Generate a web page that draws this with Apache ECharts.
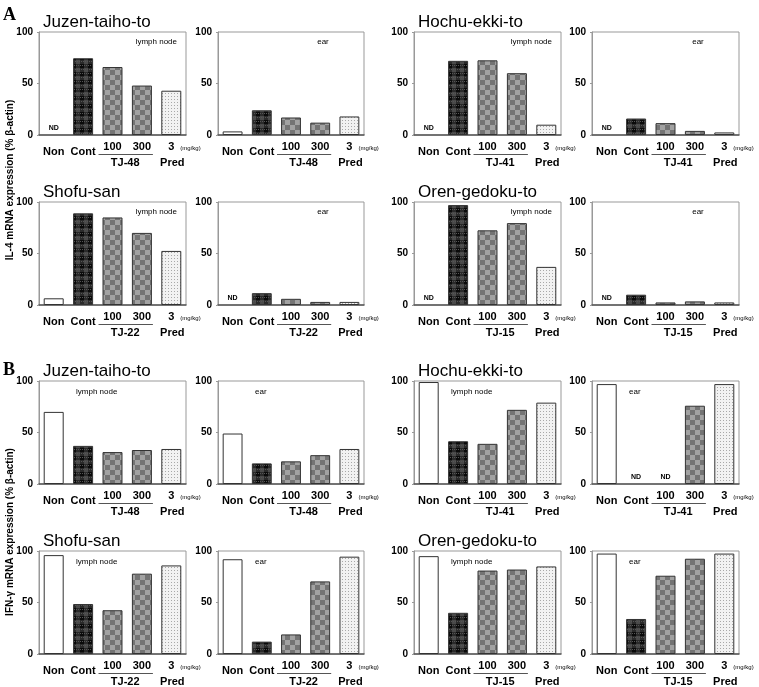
<!DOCTYPE html>
<html><head><meta charset="utf-8">
<script src="https://cdn.jsdelivr.net/npm/echarts@6/dist/echarts.min.js"></script>
<style>html,body{margin:0;padding:0;background:#fff}#c{width:759px;height:687px}</style>
</head><body><div id="c"></div><script>
const categories = ['Non','Cont','100','300','3'];
const yTicks = [0, 50, 100];
// Panel A: IL-4 mRNA expression (% beta-actin)
const il4JuzenLymph = [0, 74.5, 66, 48, 43];
const il4JuzenEar   = [3.5, 24, 17, 12, 18];
const il4HochuLymph = [0, 72, 72.5, 60, 10];
const il4HochuEar   = [0, 16, 11.5, 4, 2.5];
const il4ShofuLymph = [6.5, 89, 85, 70, 52.5];
const il4ShofuEar   = [0, 11.5, 6, 3, 3];
const il4OrenLymph  = [0, 97, 72.5, 79.5, 37];
const il4OrenEar    = [0, 10, 2.5, 3.5, 2.5];
// Panel B: IFN-gamma mRNA expression (% beta-actin)
const ifnJuzenLymph = [70, 37, 31, 33, 34];
const ifnJuzenEar   = [49, 20, 22, 28, 34];
const ifnHochuLymph = [99, 41.5, 39, 72, 79];
const ifnHochuEar   = [97, 0, 0, 76, 97];
const ifnShofuLymph = [96, 48.5, 42.5, 78, 86];
const ifnShofuEar   = [92, 12, 19, 70.5, 94.5];
const ifnOrenLymph  = [95, 40, 81, 82, 85];
const ifnOrenEar    = [97.5, 34, 76, 92.5, 97.5];
// Not-detected categories
const ndIl4JuzenLymph = ['Non'];
const ndIl4HochuLymph = ['Non'];
const ndIl4HochuEar   = ['Non'];
const ndIl4ShofuEar   = ['Non'];
const ndIl4OrenLymph  = ['Non'];
const ndIl4OrenEar    = ['Non'];
const ndIfnHochuEar   = ['Cont','100'];

const panels = [
  {title:'Juzen-taiho-to', tissue:'lymph node', drug:'TJ-48', values:il4JuzenLymph, nd:ndIl4JuzenLymph, row:0, col:0},
  {title:'', tissue:'ear', drug:'TJ-48', values:il4JuzenEar, nd:[], row:0, col:1},
  {title:'Hochu-ekki-to', tissue:'lymph node', drug:'TJ-41', values:il4HochuLymph, nd:ndIl4HochuLymph, row:0, col:2},
  {title:'', tissue:'ear', drug:'TJ-41', values:il4HochuEar, nd:ndIl4HochuEar, row:0, col:3},
  {title:'Shofu-san', tissue:'lymph node', drug:'TJ-22', values:il4ShofuLymph, nd:[], row:1, col:0},
  {title:'', tissue:'ear', drug:'TJ-22', values:il4ShofuEar, nd:ndIl4ShofuEar, row:1, col:1},
  {title:'Oren-gedoku-to', tissue:'lymph node', drug:'TJ-15', values:il4OrenLymph, nd:ndIl4OrenLymph, row:1, col:2},
  {title:'', tissue:'ear', drug:'TJ-15', values:il4OrenEar, nd:ndIl4OrenEar, row:1, col:3},
  {title:'Juzen-taiho-to', tissue:'lymph node', drug:'TJ-48', values:ifnJuzenLymph, nd:[], row:2, col:0},
  {title:'', tissue:'ear', drug:'TJ-48', values:ifnJuzenEar, nd:[], row:2, col:1},
  {title:'Hochu-ekki-to', tissue:'lymph node', drug:'TJ-41', values:ifnHochuLymph, nd:[], row:2, col:2},
  {title:'', tissue:'ear', drug:'TJ-41', values:ifnHochuEar, nd:ndIfnHochuEar, row:2, col:3},
  {title:'Shofu-san', tissue:'lymph node', drug:'TJ-22', values:ifnShofuLymph, nd:[], row:3, col:0},
  {title:'', tissue:'ear', drug:'TJ-22', values:ifnShofuEar, nd:[], row:3, col:1},
  {title:'Oren-gedoku-to', tissue:'lymph node', drug:'TJ-15', values:ifnOrenLymph, nd:[], row:3, col:2},
  {title:'', tissue:'ear', drug:'TJ-15', values:ifnOrenEar, nd:[], row:3, col:3}
];

const colLeft = [39, 218, 414, 592];
const colWidth = [147, 146, 147, 147];
const rowTop = [32, 202, 381, 551];
const plotH = 103;
const FONT = '"Liberation Sans", Arial, sans-serif';

function makePattern(kind) {
  const c = document.createElement('canvas');
  const ctx = c.getContext('2d');
  if (kind === 'cont') {
    c.width = 8; c.height = 8;
    ctx.fillStyle = '#2a2a2a'; ctx.fillRect(0,0,8,8);
    ctx.fillStyle = '#0a0a0a'; ctx.fillRect(0,0,4,4);
    ctx.fillStyle = '#4a4a4a'; ctx.fillRect(4,4,4,4);
    ctx.fillStyle = '#555';
    for (let i = 0; i < 8; i += 2) { ctx.fillRect(i,1,1,1); ctx.fillRect(i+1,5,1,1); }
  } else if (kind === 'check') {
    c.width = 10; c.height = 10;
    ctx.fillStyle = '#a2a2a2'; ctx.fillRect(0,0,10,10);
    ctx.fillStyle = '#747474'; ctx.fillRect(0,0,5,5); ctx.fillRect(5,5,5,5);
  } else if (kind === 'pred') {
    c.width = 3; c.height = 3;
    ctx.fillStyle = '#f2f2f2'; ctx.fillRect(0,0,3,3);
    ctx.fillStyle = '#a8a8a8'; ctx.fillRect(0,0,1,1);
  }
  return c;
}
const fills = [
  '#ffffff',
  {image: makePattern('cont'), repeat: 'repeat'},
  {image: makePattern('check'), repeat: 'repeat'},
  {image: makePattern('check'), repeat: 'repeat'},
  {image: makePattern('pred'), repeat: 'repeat'}
];

const grids = [], xAxes = [], yAxes = [], series = [];
panels.forEach((p, i) => {
  grids.push({left: colLeft[p.col], top: rowTop[p.row], width: colWidth[p.col], height: plotH,
    show: true, borderColor: '#999', borderWidth: 1, containLabel: false});
  xAxes.push({type: 'category', gridIndex: i, data: categories,
    axisLine: {lineStyle: {color: '#555', width: 1.5}}, axisTick: {show: false},
    axisLabel: {show: false}, splitLine: {show: false}});
  yAxes.push({type: 'value', gridIndex: i, min: 0, max: 100, interval: 50,
    axisLine: {show: true, lineStyle: {color: '#999'}},
    axisTick: {show: true, length: 2, lineStyle: {color: '#999'}},
    splitLine: {show: false},
    axisLabel: {fontFamily: FONT, fontWeight: 'bold', fontSize: 10, color: '#000', margin: 6}});
  series.push({type: 'bar', xAxisIndex: i, yAxisIndex: i, barWidth: '68%', silent: true,
    data: p.values.map((v, k) => {
      const isND = p.nd.indexOf(categories[k]) >= 0;
      return {value: v,
        itemStyle: {color: fills[k], borderColor: '#333', borderWidth: isND ? 0 : 1},
        label: isND ? {show: true, position: 'top', distance: 3, formatter: 'ND',
          fontFamily: FONT, fontWeight: 'bold', fontSize: 7, color: '#000'} : {show: false}};
    })});
});

const chart = echarts.init(document.getElementById('c'), null, {renderer: 'canvas'});
chart.setOption({animation: false, backgroundColor: '#fff', grid: grids, xAxis: xAxes, yAxis: yAxes, series: series});

const g = [];
function txt(x, y, s, opt) {
  g.push({type: 'text', x: x, y: y, silent: true, rotation: opt.rotation || 0,
    style: {text: s, fill: '#000', font: opt.font, textAlign: opt.align || 'center', textVerticalAlign: 'middle'}});
}
panels.forEach((p, i) => {
  const left = colLeft[p.col], right = left + colWidth[p.col], top = rowTop[p.row];
  const cx = categories.map(c => chart.convertToPixel({xAxisIndex: i}, c));
  const y0 = chart.convertToPixel({yAxisIndex: i}, 0);
  if (p.title) txt(left + 4, top - 10, p.title, {font: '17px ' + FONT, align: 'left'});
  if (p.row < 2) {
    if (p.tissue === 'ear') txt(right - 41, top + 10, p.tissue, {font: '8px ' + FONT});
    else txt(right - 9, top + 10, p.tissue, {font: '8px ' + FONT, align: 'right'});
  } else {
    txt(left + 37, top + 11, p.tissue, {font: '8px ' + FONT, align: 'left'});
  }
  const bold11 = 'bold 11px ' + FONT;
  txt(cx[0], y0 + 17, categories[0], {font: bold11});
  txt(cx[1], y0 + 17, categories[1], {font: bold11});
  txt(cx[2], y0 + 12, categories[2], {font: bold11});
  txt(cx[3], y0 + 12, categories[3], {font: bold11});
  txt(cx[4], y0 + 12, categories[4], {font: bold11});
  txt(cx[4] + 9, y0 + 13, '(mg/kg)', {font: '6px ' + FONT, align: 'left'});
  const x1 = cx[2] - 14, x2 = cx[3] + 11;
  g.push({type: 'line', silent: true, shape: {x1: x1, y1: y0 + 19.5, x2: x2, y2: y0 + 19.5},
    style: {stroke: '#555', lineWidth: 1}});
  txt((cx[2] + cx[3]) / 2 - 2, y0 + 28, p.drug, {font: bold11});
  txt(cx[4] + 1, y0 + 28, 'Pred', {font: bold11});
});
txt(3, 15, 'A', {font: 'bold 18px "Liberation Serif", "Times New Roman", serif', align: 'left'});
txt(3, 370, 'B', {font: 'bold 18px "Liberation Serif", "Times New Roman", serif', align: 'left'});
txt(10, 180, 'IL-4 mRNA expression (% β-actin)', {font: 'bold 10px ' + FONT, rotation: Math.PI / 2});
txt(10, 532, 'IFN-γ mRNA expression (% β-actin)', {font: 'bold 10px ' + FONT, rotation: Math.PI / 2});
chart.setOption({graphic: {elements: g}});
</script></body></html>
